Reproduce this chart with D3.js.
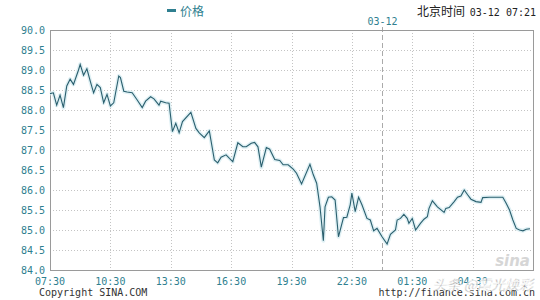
<!DOCTYPE html>
<html>
<head>
<meta charset="utf-8">
<script src="https://cdn.jsdelivr.net/npm/d3@7"></script>
<style>
  body { margin: 0; background: #fff; }
  svg { display: block; }
</style>
</head>
<body>
<svg id="chart" width="540" height="300"></svg>
<script>
var times = ["07:30","07:40","07:50","08:00","08:10","08:20","08:30","08:40","08:55","09:00",
  "09:10","09:20","09:30","09:40","09:50","10:00","10:10","10:20","10:30","10:40",
  "10:55","11:00","11:10","11:20","11:35","11:50","12:05","12:15","12:30","12:40",
  "12:55","13:00","13:15","13:25","13:35","13:45","13:55","14:05","14:30","14:45",
  "14:55","15:10","15:25","15:40","15:50","16:00","16:15","16:25","16:35","16:50",
  "17:05","17:15","17:30","17:40","17:50","18:00","18:15","18:25","18:40","18:55",
  "19:05","19:20","19:35","19:45","20:00","20:25","20:35","20:45","20:55","21:05",
  "21:10","21:20","21:30","21:40","21:50","22:05","22:15","22:25","22:30","22:40",
  "22:50","23:00","23:15","23:25","23:35","23:45","00:00","00:15","00:25","00:40",
  "00:45","00:55","01:05","01:15","01:20","01:30","01:40","01:55","02:05","02:15",
  "02:20","02:30","02:45","03:05","03:10","03:20","03:35","03:45","03:55","04:05",
  "04:15","04:25","04:40","04:55","05:00","05:20","06:00","06:10","06:20","06:30",
  "06:40","06:50","07:00","07:10","07:21"];

var prices = [88.41,88.43,88.12,88.37,88.06,88.60,88.77,88.64,89.00,89.14,
  88.87,89.03,88.72,88.43,88.64,88.56,88.18,88.39,88.10,88.18,
  88.85,88.81,88.47,88.45,88.43,88.25,88.06,88.22,88.33,88.28,
  88.12,88.22,88.18,88.17,87.46,87.67,87.43,87.71,87.94,87.54,
  87.43,87.31,87.48,86.75,86.68,86.82,86.88,86.79,86.71,87.18,
  87.08,87.08,87.17,87.19,87.08,86.57,87.06,87.02,86.76,86.74,
  86.63,86.63,86.52,86.42,86.15,86.64,86.38,86.17,85.58,84.73,
  85.58,85.82,85.83,85.75,84.83,85.31,85.32,85.63,85.92,85.46,
  85.82,85.63,85.29,85.25,84.98,85.04,84.83,84.65,84.89,85.00,
  85.25,85.29,85.39,85.29,85.17,85.29,85.00,85.17,85.27,85.33,
  85.54,85.73,85.58,85.44,85.54,85.56,85.71,85.82,85.85,86.00,
  85.88,85.77,85.71,85.69,85.81,85.82,85.82,85.67,85.50,85.25,
  85.04,85.00,84.98,85.02,85.03];

var xTickLabels = ["07:30","10:30","13:30","16:30","19:30","22:30","01:30","04:30"];
var yTicks = [84.0,84.5,85.0,85.5,86.0,86.5,87.0,87.5,88.0,88.5,89.0,89.5,90.0];
var startDay = "03-11", nextDay = "03-12";
var dayBreak = "00:00";
var seriesName = "价格";
var clockLabel = "北京时间";
var clockValue = "03-12 07:21";

var parse = d3.timeParse("%m-%d %H:%M");
function toDate(t) {
  return parse((t < "07:30" ? nextDay : startDay) + " " + t);
}

var data = times.map((t, i) => ({ date: toDate(t), price: prices[i] }));

var svg = d3.select("#chart");
var plotLeft = 50, plotRight = 533, plotTop = 30, plotBottom = 270;
var teal = "#2f7f90";
var mono = "'DejaVu Sans Mono', 'Liberation Mono', monospace";
var cjk = "'Noto Sans CJK SC', sans-serif";

var x = d3.scaleTime()
          .domain([toDate("07:30"), d3.timeDay.offset(toDate("07:30"), 1)])
          .range([plotLeft, plotRight]);
var y = d3.scaleLinear()
          .domain([84, 90])
          .range([plotBottom, plotTop]);

// grid
svg.append("g")
   .selectAll("line")
   .data(yTicks.slice(1, -1))
   .enter().append("line")
     .attr("x1", plotLeft).attr("x2", plotRight)
     .attr("y1", d => Math.round(y(d)) + 0.5)
     .attr("y2", d => Math.round(y(d)) + 0.5)
     .attr("stroke", "#c4c4c4")
     .attr("stroke-dasharray", "1,2");

svg.append("g")
   .selectAll("line")
   .data(xTickLabels.slice(1))
   .enter().append("line")
     .attr("x1", d => Math.round(x(toDate(d))) + 0.5)
     .attr("x2", d => Math.round(x(toDate(d))) + 0.5)
     .attr("y1", plotTop).attr("y2", plotBottom)
     .attr("stroke", "#c4c4c4")
     .attr("stroke-dasharray", "1,2");

// day break
var xb = Math.round(x(toDate(dayBreak))) + 0.5;
svg.append("line")
   .attr("x1", xb).attr("x2", xb)
   .attr("y1", plotTop - 3).attr("y2", plotBottom)
   .attr("stroke", "#aaa")
   .attr("stroke-dasharray", "5,3");
svg.append("text")
   .attr("x", xb).attr("y", 25)
   .attr("text-anchor", "middle")
   .attr("font-family", mono).attr("font-size", 10)
   .attr("fill", teal)
   .text(nextDay);

// frame
svg.append("rect")
   .attr("x", plotLeft + 0.5).attr("y", plotTop + 0.5)
   .attr("width", plotRight - plotLeft).attr("height", plotBottom - plotTop)
   .attr("fill", "none")
   .attr("stroke", "#9a9a9a");

// axis labels
svg.append("g")
   .selectAll("text")
   .data(yTicks)
   .enter().append("text")
     .attr("x", plotLeft - 5)
     .attr("y", d => y(d) + 3.5)
     .attr("text-anchor", "end")
     .attr("font-family", mono).attr("font-size", 10)
     .attr("fill", teal)
     .text(d => d.toFixed(1));

svg.append("g")
   .selectAll("text")
   .data(xTickLabels)
   .enter().append("text")
     .attr("x", d => x(toDate(d)))
     .attr("y", 285)
     .attr("text-anchor", "middle")
     .attr("font-family", mono).attr("font-size", 10)
     .attr("fill", teal)
     .text(d => d);

// sina mark
svg.append("text")
   .attr("x", 530).attr("y", 266)
   .attr("text-anchor", "end")
   .attr("font-family", "'DejaVu Sans', sans-serif")
   .attr("font-size", 15).attr("font-weight", "bold").attr("font-style", "italic")
   .attr("fill", "#d6d6d6")
   .text("sina");

// price line
var line = d3.line()
             .x(d => x(d.date))
             .y(d => y(d.price));

svg.append("path")
   .datum(data)
   .attr("fill", "none")
   .attr("stroke", "#dff0f4")
   .attr("stroke-width", 4)
   .attr("stroke-linejoin", "round")
   .attr("d", line);

svg.append("path")
   .datum(data)
   .attr("fill", "none")
   .attr("stroke", "#2a5f6e")
   .attr("stroke-width", 1.1)
   .attr("d", line);

// legend and clock
svg.append("rect")
   .attr("x", 167).attr("y", 9)
   .attr("width", 9).attr("height", 3)
   .attr("fill", teal);
svg.append("text")
   .attr("x", 180).attr("y", 16)
   .attr("font-family", cjk).attr("font-size", 12)
   .attr("fill", teal)
   .text(seriesName);

svg.append("text")
   .attr("x", 465).attr("y", 16)
   .attr("text-anchor", "end")
   .attr("font-family", cjk).attr("font-size", 12)
   .attr("fill", "#222")
   .text(clockLabel);
svg.append("text")
   .attr("x", 536).attr("y", 16)
   .attr("text-anchor", "end")
   .attr("font-family", mono).attr("font-size", 10)
   .attr("fill", "#222")
   .text(clockValue);

// footer
svg.append("text")
   .attr("x", 39).attr("y", 296)
   .attr("font-family", mono).attr("font-size", 10)
   .attr("fill", "#333")
   .text("Copyright  SINA.COM");
svg.append("text")
   .attr("x", 535).attr("y", 296)
   .attr("text-anchor", "end")
   .attr("font-family", mono).attr("font-size", 10)
   .attr("fill", "#333")
   .text("http://finance.sina.com.cn");
svg.append("text")
   .attr("x", 533).attr("y", 290)
   .attr("text-anchor", "end")
   .attr("font-family", cjk).attr("font-size", 14)
   .attr("font-style", "italic")
   .attr("fill", "#555")
   .attr("stroke", "#fff").attr("stroke-width", 0.6)
   .attr("opacity", 0.85)
   .text("头条 @霞光焕彩");
</script>
</body>
</html>
